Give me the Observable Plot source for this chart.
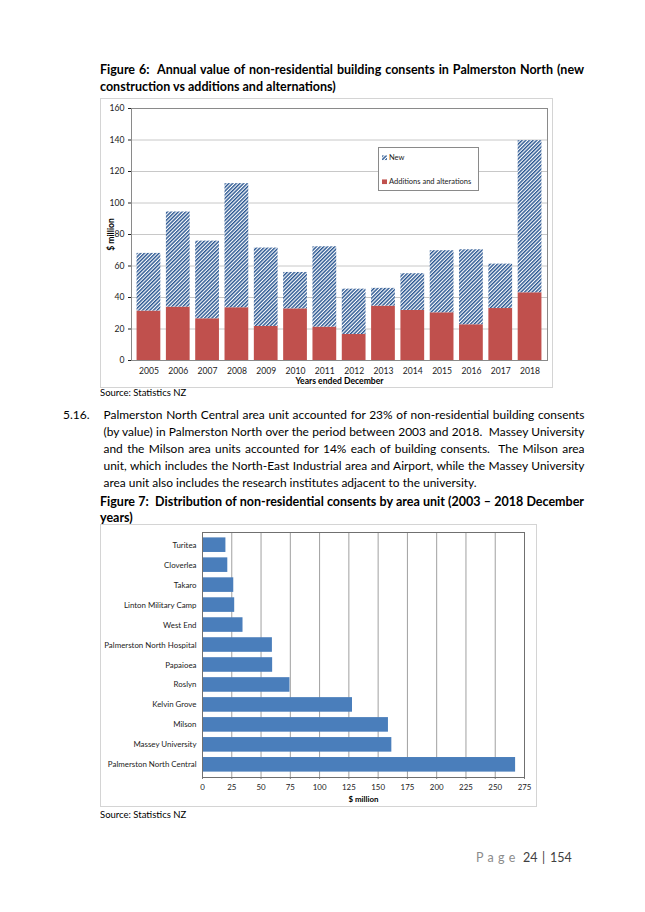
<!DOCTYPE html>
<html><head><meta charset="utf-8">
<script src="https://cdn.jsdelivr.net/npm/d3@7"></script>
<script src="https://cdn.jsdelivr.net/npm/@observablehq/plot@0.6"></script>
<style>
html,body{margin:0;padding:0;background:#fff;}
#page{position:relative;width:645px;height:912px;overflow:hidden;font-family:Lato,"Open Sans",sans-serif;color:#000;}
#page svg{position:absolute;}
</style></head><body><div id="page"></div>
<script>
// ---------- Figure 6 data ----------
const years = [2005, 2006, 2007, 2008, 2009, 2010, 2011, 2012, 2013, 2014, 2015, 2016, 2017, 2018];
const additionsValues = [31.4, 33.9, 26.5, 33.5, 21.6, 32.8, 21.2, 16.5, 34.5, 31.8, 30.3, 22.7, 33.0, 43.0];
const newValues = [36.6, 60.4, 49.3, 78.8, 49.8, 23.1, 51.0, 28.8, 11.3, 23.3, 39.4, 47.6, 28.2, 96.6];
const seriesNames = ["New", "Additions and alterations"];
const yTicks = [0, 20, 40, 60, 80, 100, 120, 140, 160];

// ---------- Figure 7 data ----------
const areas = ["Turitea", "Cloverlea", "Takaro", "Linton Military Camp", "West End", "Palmerston North Hospital",
  "Papaioea", "Roslyn", "Kelvin Grove", "Milson", "Massey University", "Palmerston North Central"];
const areaValues = [20.0, 21.6, 26.7, 27.5, 34.6, 59.7, 59.9, 74.7, 128.1, 158.8, 161.7, 267.4];
const xTicks2 = [0, 25, 50, 75, 100, 125, 150, 175, 200, 225, 250, 275];

// ---------- Texts ----------
const fig6Title = ["Figure 6:  Annual value of non-residential building consents in Palmerston North (new",
  "construction vs additions and alternations)"];
const paraNum = "5.16.";
const paragraph = [
  "Palmerston North Central area unit accounted for 23% of non-residential building consents",
  "(by value) in Palmerston North over the period between 2003 and 2018.  Massey University",
  "and the Milson area units accounted for 14% each of building consents.  The Milson area",
  "unit, which includes the North-East Industrial area and Airport, while the Massey University",
  "area unit also includes the research institutes adjacent to the university."];
const fig7Title = ["Figure 7:  Distribution of non-residential consents by area unit (2003 – 2018 December",
  "years)"];
const sourceText = "Source: Statistics NZ";

const page = document.getElementById("page");

function addLines(lines, o) {
  const els = lines.map((t, i) => {
    const s = document.createElement("span");
    s.textContent = t;
    s.style.cssText = `position:absolute;left:${o.x}px;top:${o.y0 + i * o.dy}px;white-space:pre;font-size:${o.size}px;font-weight:${o.weight || 400};line-height:1;transform:translateY(-50%);color:${o.color || "#000"}`;
    page.appendChild(s);
    return s;
  });
  if (o.width) {
    const maxW = Math.max(...els.map(e => e.getBoundingClientRect().width));
    if (maxW > o.width) {
      const ns = o.size * o.width / maxW * 0.995;
      els.forEach(e => e.style.fontSize = ns + "px");
    }
    els.forEach((e, i) => {
      if (i === els.length - 1 && !o.justifyLast) return;
      const w = e.getBoundingClientRect().width;
      const n = (e.textContent.match(/ /g) || []).length;
      if (n) e.style.wordSpacing = ((o.width - w) / n) + "px";
    });
  }
  return els;
}

addLines(fig6Title, {x: 100, y0: 69.5, dy: 17.3, size: 12.5, weight: 700, width: 484});
addLines([paraNum], {x: 63, y0: 415, dy: 0, size: 12});
addLines(paragraph, {x: 103.5, y0: 415, dy: 17.1, size: 12.5, width: 481});
addLines(fig7Title, {x: 100, y0: 501.7, dy: 15.8, size: 12.5, weight: 700, width: 484});
addLines([sourceText], {x: 100, y0: 393, dy: 0, size: 9.5});
addLines([sourceText], {x: 100, y0: 814.5, dy: 0, size: 9.5});

// footer
const foot = document.createElement("div");
foot.style.cssText = "position:absolute;left:476px;top:858px;transform:translateY(-50%);font-size:12.5px;line-height:1;white-space:pre";
foot.innerHTML = '<span style="color:#8c8c8c;letter-spacing:4.3px">Page</span> <span style="color:#404040;word-spacing:1.5px">24 | 154</span>';
page.appendChild(foot);

// ---------- Chart 1 ----------
const rows1 = [];
years.forEach((yr, i) => {
  rows1.push({year: yr, series: "Additions and alterations", value: additionsValues[i]});
  rows1.push({year: yr, series: "New", value: newValues[i]});
});

const chart1 = Plot.plot({
  width: 453, height: 290,
  marginLeft: 31, marginRight: 6, marginTop: 10, marginBottom: 28,
  style: {fontFamily: "Lato, sans-serif", fontSize: "8.6px", color: "#222", background: "white", overflow: "visible"},
  x: {domain: years, padding: 0.19, round: false, label: null},
  y: {domain: [0, 160], label: null},
  color: {domain: seriesNames, range: ["url(#hatch)", "#C0504D"]},
  marks: [
    Plot.gridY(yTicks, {stroke: "#c8c8c8", strokeOpacity: 1}),
    Plot.barY(rows1, {x: "year", y: "value", fill: "series"}),
    Plot.axisX({tickSize: 0, tickPadding: 7, tickFormat: d => String(d), label: "Years ended December", labelAnchor: "center", labelOffset: 23, labelArrow: "none"}),
    Plot.axisY({ticks: yTicks, tickSize: 3, tickPadding: 4, label: "$ million", labelAnchor: "center", labelOffset: 24, labelArrow: "none"}),
    Plot.frame({stroke: "#8a8a8a"})
  ]
});
chart1.style.left = "100px"; chart1.style.top = "98px";
chart1.style.outline = "1px solid #d4d4d4"; chart1.style.outlineOffset = "-1px";
page.appendChild(chart1);
{
  const svg = d3.select(chart1);
  const defs = svg.insert("defs", ":first-child");
  const pat = defs.append("pattern").attr("id", "hatch").attr("patternUnits", "userSpaceOnUse")
    .attr("width", 2.6).attr("height", 2.6).attr("patternTransform", "rotate(45)");
  pat.append("rect").attr("width", 2.6).attr("height", 2.6).attr("fill", "#ffffff");
  pat.append("rect").attr("width", 1.45).attr("height", 2.6).attr("fill", "#2B5792");
  svg.selectAll("[aria-label='x-axis label'], [aria-label='y-axis label']").style("font-weight", "700").style("fill", "#000");
}

// legend for chart 1
const colorScale = chart1.scale("color");
const leg = document.createElement("div");
leg.style.cssText = "position:absolute;left:378px;top:147px;width:101px;height:44px;border:1px solid #8a8a8a;background:#fff;box-sizing:border-box;font-size:7.5px;line-height:1;color:#222";
colorScale.domain.forEach((name, i) => {
  const row = document.createElement("div");
  row.style.cssText = `position:absolute;left:3px;top:${10 + i * 23.5}px;transform:translateY(-50%);white-space:nowrap;display:flex;align-items:center`;
  const sw = `<svg width="5" height="5" style="position:static;margin-right:2px"><rect width="5" height="5" fill="${colorScale.range[i]}"/></svg>`;
  row.innerHTML = sw + `<span>${name}</span>`;
  leg.appendChild(row);
});
page.appendChild(leg);

// ---------- Chart 2 ----------
const rows2 = areas.map((a, i) => ({area: a, value: areaValues[i]}));
const chart2 = Plot.plot({
  width: 437, height: 283,
  marginLeft: 102, marginRight: 13, marginTop: 8, marginBottom: 30,
  style: {fontFamily: "Lato, sans-serif", fontSize: "7.9px", color: "#222", background: "white", overflow: "visible"},
  x: {domain: [0, 275], label: null},
  y: {domain: areas, padding: 0.27, round: false, label: null},
  marks: [
    Plot.gridX(xTicks2, {stroke: "#a0a0a0", strokeOpacity: 1}),
    Plot.barX(rows2, {x: "value", y: "area", fill: "#4A7EBB"}),
    Plot.axisX({ticks: xTicks2, tickSize: 2, stroke: "#808080", tickPadding: 5, label: "$ million", labelAnchor: "center", labelOffset: 24, labelArrow: "none"}),
    Plot.axisY({tickSize: 0, tickPadding: 6, label: null}),
    Plot.frame({stroke: "#707070"})
  ]
});
chart2.style.left = "100px"; chart2.style.top = "524px";
chart2.style.outline = "1px solid #d4d4d4"; chart2.style.outlineOffset = "-1px";
page.appendChild(chart2);
d3.select(chart2).selectAll("[aria-label='x-axis label']").style("font-weight", "700").style("fill", "#000");
</script>
</body></html>
